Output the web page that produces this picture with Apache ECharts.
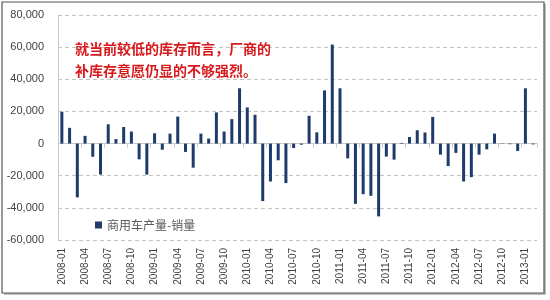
<!DOCTYPE html>
<html>
<head>
<meta charset="utf-8">
<style>
  html, body { margin: 0; padding: 0; background: #fff; }
  #chart { width: 550px; height: 300px; }
</style>
<script src="https://cdn.jsdelivr.net/npm/echarts@6/dist/echarts.min.js"></script>
</head>
<body>
<div id="chart"></div>
<script>
// 商用车产量-销量，月度，2008-01 ~ 2013-02
const months = [];
for (let y = 2008; y <= 2013; y++) {
  for (let m = 1; m <= 12; m++) {
    if (y === 2013 && m > 2) break;
    months.push(y + "-" + (m < 10 ? "0" + m : m));
  }
}

const seriesName = "商用车产量-销量";

const diffValues = [
  19800, 9800, -33500, 4800, -8200, -19300, 12000, 2800, 10300, 7500, -9800, -19300,
  6400, -3800, 6200, 16800, -5200, -15000, 6200, 3100, 19400, 7500, 15200, 34400,
  22500, 17900, -35800, -23600, -10400, -24600, -2800, -700, 17300, 7000, 33100, 61600,
  34400, -9200, -37500, -31500, -32500, -45300, -8100, -10000, 400, 4100, 8300, 6900,
  16600, -6900, -14000, -5800, -23600, -20900, -6900, -3600, 6200, 200, -400, -4600,
  34400, -500
];

const yTicks = { min: -60000, max: 80000, interval: 20000 };

const noteLines = ["就当前较低的库存而言，厂商的", "补库存意愿仍显的不够强烈。"];

const chart = echarts.init(document.getElementById("chart"));

chart.setOption({
  animation: false,
  backgroundColor: "#fff",
  grid: { left: 58, right: 13, top: 15, bottom: 60 },
  legend: {
    data: [seriesName],
    left: 90,
    top: 214,
    itemWidth: 7,
    itemHeight: 7,
    itemGap: 4,
    icon: "rect",
    textStyle: { color: "#595959", fontSize: 12, fontFamily: "Noto Sans CJK SC" }
  },
  xAxis: [
    {
      type: "category",
      data: months,
      position: "bottom",
      axisLine: { onZero: false, show: false },
      axisTick: { show: false },
      axisLabel: {
        interval: 2,
        rotate: 90,
        margin: 8,
        color: "#404040",
        fontSize: 10,
        fontFamily: "Liberation Sans"
      }
    },
    {
      type: "category",
      data: months,
      position: "bottom",
      axisLine: { onZero: true, lineStyle: { color: "#c8c8c8", width: 1 } },
      axisTick: { show: true, interval: 2, length: 4, lineStyle: { color: "#c8c8c8" } },
      axisLabel: { show: false }
    }
  ],
  yAxis: {
    type: "value",
    min: yTicks.min,
    max: yTicks.max,
    interval: yTicks.interval,
    axisLine: { show: true, lineStyle: { color: "#c8c8c8" } },
    axisTick: { show: false },
    axisLabel: {
      margin: 14,
      color: "#404040",
      fontSize: 11,
      fontFamily: "Liberation Sans",
      formatter: (v) => v.toLocaleString("en-US")
    },
    splitLine: { show: true, lineStyle: { color: "#c4c4c4", type: [4, 3] } }
  },
  series: [
    {
      name: seriesName,
      type: "bar",
      xAxisIndex: 0,
      data: diffValues,
      barWidth: 3,
      itemStyle: { color: "#1f3b6b" }
    }
  ],
  graphic: [
    // 外框及阴影
    {
      type: "rect",
      shape: { x: 4, y: 4, width: 542, height: 291 },
      style: { fill: "#bdbdbd" },
      z: -10,
      silent: true
    },
    {
      type: "rect",
      shape: { x: 2, y: 2, width: 542, height: 291 },
      style: { fill: "#fff", stroke: "#555", lineWidth: 1.2 },
      z: -9,
      silent: true
    },
    {
      type: "text",
      left: 75,
      top: 38,
      style: {
        text: noteLines.join("\n"),
        fill: "#d7191c",
        font: "bold 14px 'Noto Sans CJK SC'",
        lineHeight: 22
      },
      z: 10
    }
  ]
});
</script>
</body>
</html>
